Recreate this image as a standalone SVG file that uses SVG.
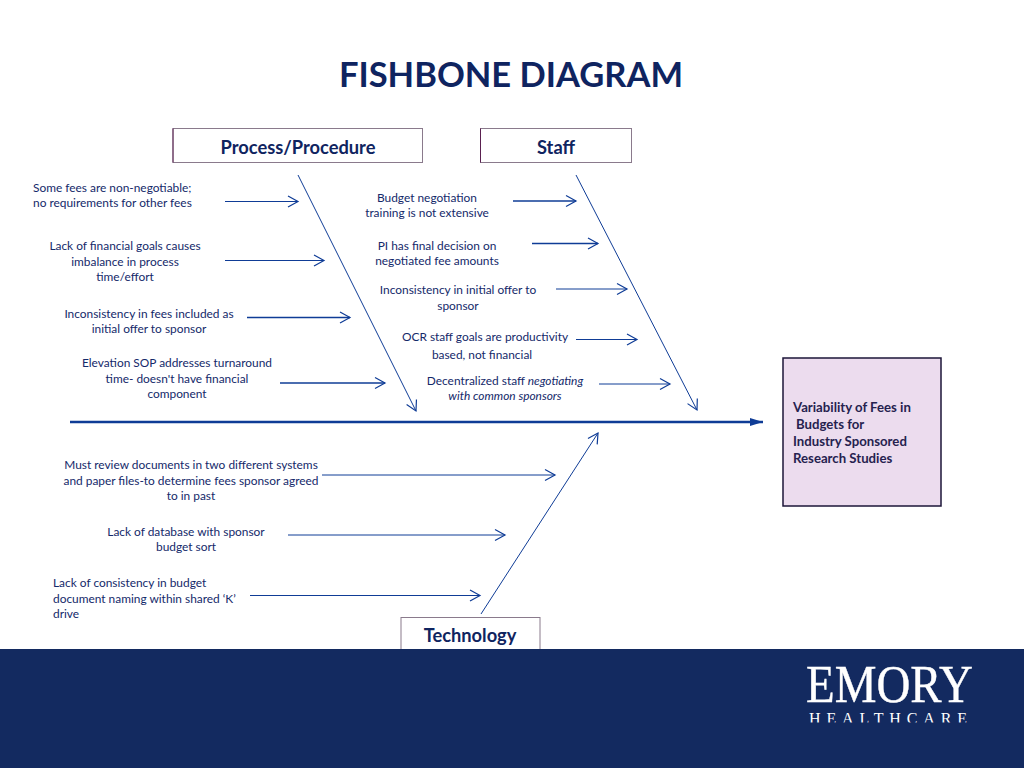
<svg xmlns="http://www.w3.org/2000/svg" width="1024" height="768" viewBox="0 0 1024 768">
<style>
text{font-family:"Lato","Open Sans","Liberation Sans",sans-serif;fill:#14296a}
.t{font-size:11.9px;text-anchor:middle}
.l{font-size:11.9px}
.h{font-size:18.300px;font-weight:700;text-anchor:middle;fill:#0f2460}
.box{fill:#fff;stroke:#8a7a8c;stroke-width:1}
.c{fill:none;stroke:#0f3c96;stroke-width:1;marker-end:url(#open)}
.c2{fill:none;stroke:#0f3c96;stroke-width:1.5;marker-end:url(#open)}
.e{fill:#26224f;font-size:13.200px;font-weight:700}
</style>
<defs>
<marker id="open" markerUnits="userSpaceOnUse" markerWidth="14" markerHeight="14" refX="11" refY="6" orient="auto" overflow="visible"><path d="M1 0.5L11 6L1 11.5" fill="none" stroke="#0f3c96" stroke-width="1.2"/></marker>
<marker id="solid" markerUnits="userSpaceOnUse" markerWidth="14" markerHeight="10" refX="13" refY="4" orient="auto" overflow="visible"><path d="M0 0L13 4L0 8Z" fill="#0f3c96"/></marker>
<clipPath id="logo"><rect x="790" y="650" width="200" height="72.500"/></clipPath>
</defs>
<rect width="1024" height="768" fill="#fff"/>
<text x="511" y="86.500" style="font-size:34.500px;font-weight:700;text-anchor:middle;fill:#0f2460">FISHBONE DIAGRAM</text>

<g id="cat-technology"><rect class="box" x="401" y="617.500" width="139" height="33"/><text class="h" x="470" y="642">Technology</text></g>
<rect id="footer" x="0" y="649" width="1024" height="119" fill="#132a60"/>
<g id="emory-logo" clip-path="url(#logo)">
<text x="806" y="702" style="font-family:'Liberation Serif',serif;font-size:53px;fill:#fff;stroke:#fff;stroke-width:.4" textLength="167" lengthAdjust="spacingAndGlyphs">EMORY</text>
<text x="809" y="724" style="font-family:'Liberation Serif',serif;font-size:16px;fill:#fff" textLength="158" lengthAdjust="spacing">HEALTHCARE</text>
</g>

<g id="connectors">
<path class="c" d="M298 175L416 411"/>
<path class="c" d="M576 175L697 410"/>
<path class="c" d="M481 614L598 433"/>
<path d="M70 422H763" fill="none" stroke="#0f3c96" stroke-width="2.500" marker-end="url(#solid)"/>
<path class="c" d="M225 201.500H298"/>
<path class="c" d="M225 260.500H324"/>
<path class="c2" d="M247 317.500H350"/>
<path class="c2" d="M280 383H385"/>
<path class="c2" d="M513 201H576"/>
<path class="c2" d="M532 243.500H598"/>
<path class="c" d="M556 289H627"/>
<path class="c" d="M576 339.500H637"/>
<path class="c" d="M599 384H670"/>
<path class="c" d="M322 475H555"/>
<path class="c" d="M288 535H505"/>
<path class="c" d="M250 595.500H480"/>
</g>

<g id="cat-process"><rect class="box" x="173" y="128.500" width="249.500" height="34"/><path d="M173 128.500V162.500" stroke="#5a2050" stroke-width="1"/><text class="h" x="298" y="153.500">Process/Procedure</text></g>
<g id="cat-staff"><rect class="box" x="480.500" y="128.500" width="151" height="34"/><path d="M480.500 128.500V162.500" stroke="#5a2050" stroke-width="1"/><text class="h" x="556" y="153.500">Staff</text></g>
<g id="effect"><rect x="783" y="358" width="158" height="148" fill="#ecdcee" stroke="#1d1638" stroke-width="1.500"/>
<text class="e" x="793" y="412">Variability of Fees in</text>
<text class="e" x="796" y="429">Budgets for</text>
<text class="e" x="793" y="446">Industry Sponsored</text>
<text class="e" x="793" y="463">Research Studies</text></g>

<g id="cause-p1"><text class="l" x="33" y="192">Some fees are non-negotiable;</text><text class="l" x="33" y="207">no requirements for other fees</text></g>
<g id="cause-p2"><text class="t" x="125" y="250">Lack of financial goals causes</text><text class="t" x="125" y="266">imbalance in process</text><text class="t" x="125" y="281">time/effort</text></g>
<g id="cause-p3"><text class="t" x="149" y="318">Inconsistency in fees included as</text><text class="t" x="149" y="333">initial offer to sponsor</text></g>
<g id="cause-p4"><text class="t" x="177" y="366.500">Elevation SOP addresses turnaround</text><text class="t" x="177" y="382.500">time- doesn't have financial</text><text class="t" x="177" y="398">component</text></g>
<g id="cause-s1"><text class="t" x="427" y="202">Budget negotiation</text><text class="t" x="427" y="217">training is not extensive</text></g>
<g id="cause-s2"><text class="t" x="437" y="250">PI has final decision on</text><text class="t" x="437" y="265">negotiated fee amounts</text></g>
<g id="cause-s3"><text class="t" x="458" y="294">Inconsistency in initial offer to</text><text class="t" x="458" y="309.500">sponsor</text></g>
<g id="cause-s4"><text class="t" x="485" y="341">OCR staff goals are productivity</text><text class="t" x="482" y="358.500">based, not financial</text></g>
<g id="cause-s5"><text class="t" x="505" y="385">Decentralized staff <tspan font-style="italic">negotiating</tspan></text><text class="t" x="505" y="400" font-style="italic">with common sponsors</text></g>
<g id="cause-t1"><text class="t" x="191" y="469">Must review documents in two different systems</text><text class="t" x="191" y="485">and paper files-to determine fees sponsor agreed</text><text class="t" x="191" y="500">to in past</text></g>
<g id="cause-t2"><text class="t" x="186" y="536">Lack of database with sponsor</text><text class="t" x="186" y="551">budget sort</text></g>
<g id="cause-t3"><text class="l" x="53" y="587">Lack of consistency in budget</text><text class="l" x="53" y="603">document naming within shared ‘K’</text><text class="l" x="53" y="618">drive</text></g>
</svg>
